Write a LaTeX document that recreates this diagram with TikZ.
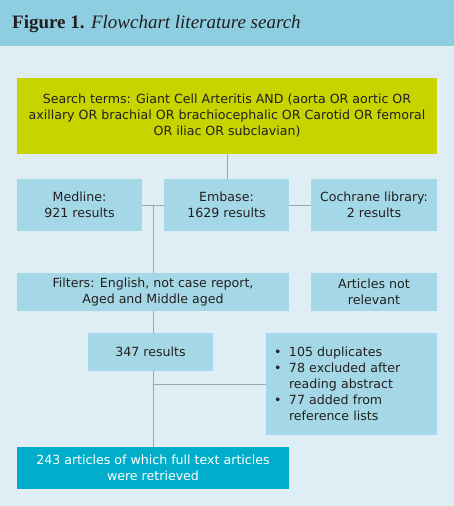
\documentclass[tikz,border=0pt]{standalone}
\usepackage{fontspec}
\setmainfont{DejaVu Sans}
\newfontfamily\titlefont{Liberation Serif}
\usetikzlibrary{calc}
\definecolor{ink}{HTML}{231F20}
\definecolor{pageBg}{HTML}{DFEEF5}
\definecolor{titleBar}{HTML}{8DCFE1}
\definecolor{boxBlue}{HTML}{A5D8E6}
\definecolor{termsYellow}{HTML}{C8D400}
\definecolor{finalBlue}{HTML}{00AECB}
\definecolor{line}{HTML}{9AA5AD}
\newcommand{\bulletitem}{\makebox[15pt][l]{\textbullet}}
\newcommand{\bulletrest}{\hspace*{15pt}}
\tikzset{
    stepbox/.style={
        rectangle,
        fill=boxBlue,
        inner sep=0pt,
        align=center,
        text=ink,
        font=\fontsize{12.6}{16}\selectfont
    },
    termsbox/.style={
        stepbox,
        fill=termsYellow
    },
    finalbox/.style={
        stepbox,
        fill=finalBlue,
        text=white
    },
    connect/.style={
        draw=line,
        line width=1pt
    }
}

\begin{document}
\begin{tikzpicture}[x=1pt,y=-1pt]
    % Page and title bar
    \fill[pageBg] (0,0) rectangle (454,506);
    \fill[titleBar] (0,0) rectangle (454,46);
    \useasboundingbox (0,0) rectangle (454,506);
    \node[anchor=west, text=ink, font=\titlefont\fontsize{19}{22}\selectfont, inner sep=0pt]
        (title) at (12,24) {\textbf{Figure 1.} \textit{Flowchart literature search}};

    % Search terms
    \node[termsbox, minimum width=420pt, minimum height=76pt] (terms) at (227,116)
        {Search terms: Giant Cell Arteritis AND (aorta OR aortic OR\\
         axillary OR brachial OR brachiocephalic OR Carotid OR femoral\\
         OR iliac OR subclavian)};

    % Databases
    \node[stepbox, minimum width=125pt, minimum height=52pt] (medline) at (79.5,205)
        {Medline:\\921 results};
    \node[stepbox, minimum width=125pt, minimum height=52pt] (embase) at (226.5,205)
        {Embase:\\1629 results};
    \node[stepbox, minimum width=126pt, minimum height=52pt] (cochrane) at (374,205)
        {Cochrane library:\\2 results};

    % Filters
    \node[stepbox, minimum width=272pt, minimum height=38pt] (filters) at (153,292)
        {Filters: English, not case report,\\Aged and Middle aged};
    \node[stepbox, minimum width=126pt, minimum height=38pt] (notrel) at (374,292)
        {Articles not\\relevant};

    % Results
    \node[stepbox, minimum width=125pt, minimum height=38pt] (results) at (150.5,352)
        {347 results};
    \node[stepbox, minimum width=171pt, minimum height=102pt, text width=155pt, align=left]
        (bullets) at (351.5,384)
        {\bulletitem 105 duplicates\\
         \bulletitem 78 excluded after\\
         \bulletrest reading abstract\\
         \bulletitem 77 added from\\
         \bulletrest reference lists};

    % Retrieved
    \node[finalbox, minimum width=272pt, minimum height=42pt] (final) at (153,468)
        {243 articles of which full text articles\\were retrieved};

    % Connectors
    \coordinate (dbjoin) at ($(medline.east)!0.5!(embase.west)$);
    \draw[connect] (terms.south) -- (terms.south |- embase.north);
    \draw[connect] (medline.east) -- (embase.west);
    \draw[connect] (embase.east) -- (cochrane.west);
    \draw[connect] (dbjoin) -- (filters.north -| dbjoin);
    \draw[connect] (filters.south) -- (filters.south |- results.north);
    \draw[connect] (results.south -| filters.south) -- (final.north);
    \draw[connect] (bullets.west) -- (bullets.west -| final.north);
\end{tikzpicture}
\end{document}
